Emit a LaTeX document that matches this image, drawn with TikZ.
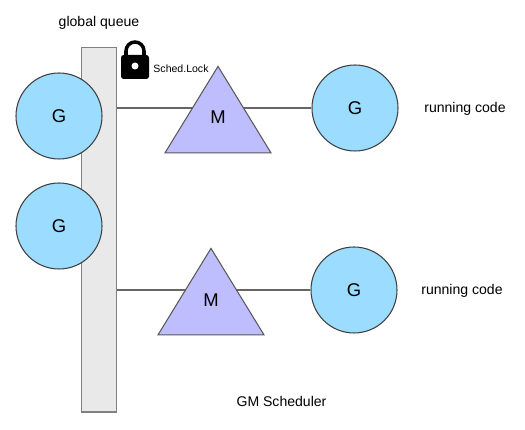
\documentclass[tikz,border=0pt]{standalone}
\usepackage{fontspec}
\setmainfont{Liberation Sans}
\usetikzlibrary{shapes.geometric}
\definecolor{gblue}{HTML}{9BDCFF}
\definecolor{mviolet}{HTML}{BEBEFF}
\definecolor{qgray}{HTML}{E9E9E9}
\tikzset{
  gnode/.style={circle, draw=black!75, line width=0.6pt, fill=gblue, minimum size=1.72cm, inner sep=0pt, font=\fontsize{10.5}{12}\selectfont},
  mnode/.style={isosceles triangle, isosceles triangle stretches, shape border rotate=90, draw=black!65, line width=0.6pt, fill=mviolet, minimum height=1.73cm, minimum width=2.12cm, inner sep=0pt, anchor=apex},
  mtext/.style={font=\fontsize{10.5}{12}\selectfont},
  caption/.style={font=\fontsize{8}{10}\selectfont, inner sep=0pt},
  link/.style={line width=0.6pt, draw=black!60}
}
\begin{document}
\begin{tikzpicture}
  \useasboundingbox (0, 0) rectangle (10.5, 8.6);

  \node [draw=black!50, line width=0.6pt, fill=qgray, minimum width=0.70cm, minimum height=7.29cm, inner sep=0pt] (queue) at (1.98, 4.005) {};

  \node [gnode] (g1) at (1.18, 6.28) {G};
  \node [gnode] (g2) at (1.18, 4.08) {G};
  \node [gnode] (g3) at (7.10, 6.44) {G};
  \node [gnode] (g4) at (7.08, 2.80) {G};

  % links run behind the triangles
  \draw [link] (queue.east |- g3) -- (g3);
  \draw [link] (queue.east |- g4) -- (g4);

  \node [mnode] (m1) at (4.36, 7.30) {};
  \node [mnode] (m2) at (4.22, 3.66) {};
  \node [mtext] (m1text) at (4.36, 6.26) {M};
  \node [mtext] (m2text) at (4.22, 2.60) {M};

  % lock
  \draw [line width=2pt, line cap=butt] (2.52, 7.45) -- (2.52, 7.58) arc (180:0:0.18) -- (2.88, 7.45);
  \fill [black, rounded corners=1.5pt] (2.42, 7.02) rectangle (2.98, 7.50);
  \fill [white] (2.70, 7.28) circle (0.07);

  \node [font=\fontsize{6}{8}\selectfont, inner sep=0pt] (lock) at (3.62, 7.23) {Sched.Lock};
  \node [caption] (qtitle) at (1.98, 8.14) {global queue};
  \node [caption] (run1) at (9.30, 6.42) {running code};
  \node [caption] (run2) at (9.24, 2.78) {running code};
  \node [caption] (title) at (5.63, 0.58) {GM Scheduler};
\end{tikzpicture}
\end{document}
